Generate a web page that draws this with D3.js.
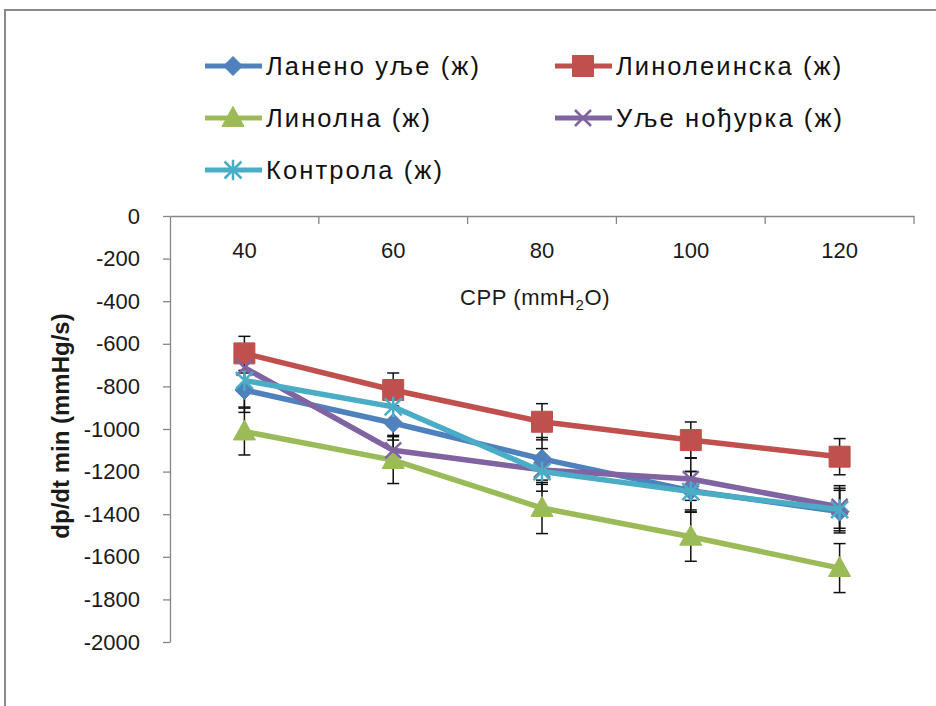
<!DOCTYPE html>
<html><head><meta charset="utf-8">
<script src="https://cdn.jsdelivr.net/npm/d3@7"></script>
<style>
html,body{margin:0;padding:0;background:#fff;}
svg{display:block;font-family:"Liberation Sans",Arial,sans-serif;}
</style></head>
<body>
<svg id="chart" width="936" height="706"></svg>
<script>
const categories = ["40", "60", "80", "100", "120"];
const yTicks = [0, -200, -400, -600, -800, -1000, -1200, -1400, -1600, -1800, -2000];
const seriesNames = ["Ланено уље (ж)", "Линолеинска (ж)", "Линолна (ж)", "Уље нођурка (ж)", "Контрола (ж)"];
const lanenoUlje = [-817, -972, -1140, -1290, -1388];
const linoleinska = [-645, -817, -966, -1052, -1130];
const linolna = [-1012, -1146, -1371, -1506, -1653];
const uljeNodjurka = [-712, -1100, -1192, -1235, -1366];
const kontrola = [-772, -896, -1200, -1294, -1378];
const errLaneno = [80, 80, 100, 90, 100];
const errLinoleinska = [80, 80, 85, 85, 85];
const errLinolna = [110, 110, 120, 115, 115];
const errNodjurka = [100, 70, 100, 100, 100];
const errKontrola = [150, 90, 60, 95, 100];
const colors = ["#4F81BD", "#C0504D", "#9BBB59", "#8064A2", "#4BACC6"];
const markerTypes = ["diamond", "square", "triangle", "x", "star"];

const series = [
  {name: seriesNames[0], values: lanenoUlje, err: errLaneno},
  {name: seriesNames[1], values: linoleinska, err: errLinoleinska},
  {name: seriesNames[2], values: linolna, err: errLinolna},
  {name: seriesNames[3], values: uljeNodjurka, err: errNodjurka},
  {name: seriesNames[4], values: kontrola, err: errKontrola}
].map((s, i) => ({...s, color: colors[i], marker: markerTypes[i]}));

const svg = d3.select("#chart");
// outer chart border (cropped)
svg.append("rect").attr("x", 5).attr("y", 10).attr("width", 1000).attr("height", 1000)
  .attr("fill", "none").attr("stroke", "#8a8a8a").attr("stroke-width", 2);

const x = d3.scaleBand().domain(categories).range([170, 914]);
const y = d3.scaleLinear().domain([-2000, 0]).range([642, 216]);
const cx = c => x(c) + x.bandwidth() / 2;

// Y axis
const yAxis = svg.append("g").attr("transform", "translate(170,0)")
  .call(d3.axisLeft(y).tickValues(yTicks).tickFormat(d => String(d)).tickSizeOuter(0).tickSizeInner(7).tickPadding(23));
yAxis.select(".domain").attr("stroke", "#868686").attr("stroke-width", 1.3);
yAxis.selectAll(".tick line").attr("stroke", "#868686").attr("stroke-width", 1.3);
yAxis.selectAll(".tick text").attr("font-size", 22).attr("fill", "#1a1a1a")
  .attr("font-family", "Liberation Sans, Arial, sans-serif");

// X axis (at top, y=0)
const xAxis = svg.append("g").attr("transform", `translate(0,${y(0)})`)
  .call(d3.axisBottom(x).tickSizeInner(0).tickSizeOuter(0).tickPadding(26));
xAxis.select(".domain").attr("stroke", "#868686").attr("stroke-width", 1.3);
xAxis.selectAll(".tick text").attr("font-size", 22).attr("fill", "#1a1a1a")
  .attr("font-family", "Liberation Sans, Arial, sans-serif");
// boundary ticks
const bounds = categories.map(c => x(c)).concat([x(categories[categories.length - 1]) + x.bandwidth()]);
svg.append("g").selectAll("line").data(bounds.slice(1)).join("line")
  .attr("x1", d => d).attr("x2", d => d).attr("y1", y(0)).attr("y2", y(0) + 8)
  .attr("stroke", "#868686").attr("stroke-width", 1.3);

// axis titles
const xt = svg.append("text").attr("x", 535).attr("y", 305).attr("text-anchor", "middle")
  .attr("font-size", 22).attr("letter-spacing", 0.6).attr("fill", "#1a1a1a");
xt.append("tspan").text("CPP (mmH");
xt.append("tspan").text("2").attr("font-size", 15).attr("dy", 5);
xt.append("tspan").text("O)").attr("dy", -5);

svg.append("text").attr("transform", "translate(69,426) rotate(-90)")
  .attr("text-anchor", "middle").attr("font-size", 24).attr("font-weight", "bold")
  .attr("fill", "#1a1a1a").text("dp/dt min (mmHg/s)");

// marker path generator
function markerPath(type, s) {
  const h = s / 2;
  switch (type) {
    case "diamond": return `M0,${-h}L${h},0L0,${h}L${-h},0Z`;
    case "square": return `M${-h},${-h}H${h}V${h}H${-h}Z`;
    case "triangle": return `M0,${-h * 1.1}L${h * 1.05},${h * 0.8}L${-h * 1.05},${h * 0.8}Z`;
    case "x": return `M${-h},${-h}L${h},${h}M${h},${-h}L${-h},${h}`;
    case "star": return `M0,${-h * 1.2}V${h * 1.2}M${-h},${-h}L${h},${h}M${h},${-h}L${-h},${h}`;
  }
}
const markerSize = {diamond: 19, square: 21, triangle: 21, x: 16, star: 17};
function drawMarker(g, s, px, py) {
  const filled = s.marker === "diamond" || s.marker === "square" || s.marker === "triangle";
  g.append("path").attr("transform", `translate(${px},${py})`)
    .attr("d", markerPath(s.marker, markerSize[s.marker]))
    .attr("fill", filled ? s.color : "none")
    .attr("stroke", s.color).attr("stroke-width", filled ? 1 : 2.5);
}

// error bars
const errG = svg.append("g");
series.forEach(s => {
  categories.forEach((c, i) => {
    const px = cx(c), top = y(s.values[i] + s.err[i]), bot = y(s.values[i] - s.err[i]);
    errG.append("line").attr("x1", px).attr("x2", px).attr("y1", top).attr("y2", bot)
      .attr("stroke", "#111").attr("stroke-width", 1.5);
    [top, bot].forEach(yy => errG.append("line").attr("x1", px - 6).attr("x2", px + 6)
      .attr("y1", yy).attr("y2", yy).attr("stroke", "#111").attr("stroke-width", 1.5));
  });
});

// lines + markers
const line = d3.line().x((d, i) => cx(categories[i])).y(d => y(d));
series.forEach(s => {
  const g = svg.append("g");
  g.append("path").attr("d", line(s.values)).attr("fill", "none")
    .attr("stroke", s.color).attr("stroke-width", 5.5).attr("stroke-linejoin", "round");
  s.values.forEach((v, i) => drawMarker(g, s, cx(categories[i]), y(v)));
});

// legend
const legendPos = [[205, 66], [555, 66], [205, 118], [555, 118], [205, 170]];
series.forEach((s, i) => {
  const [lx, ly] = legendPos[i];
  const g = svg.append("g");
  g.append("line").attr("x1", lx).attr("x2", lx + 57).attr("y1", ly).attr("y2", ly)
    .attr("stroke", s.color).attr("stroke-width", 5);
  drawMarker(g, s, lx + 28, ly);
  g.append("text").attr("x", lx + 61).attr("y", ly + 9).attr("font-size", 25.5)
    .attr("letter-spacing", 2.1).attr("fill", "#111").text(s.name);
});
</script>
</body></html>
